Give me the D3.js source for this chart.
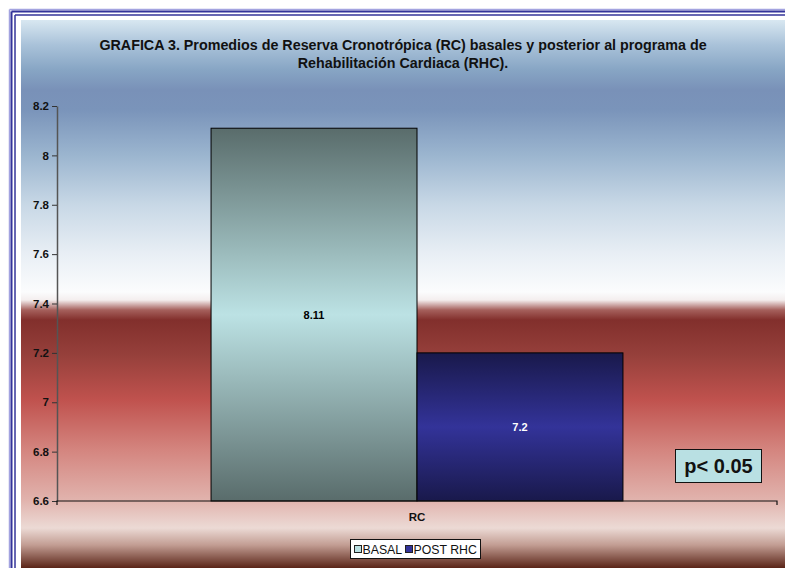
<!DOCTYPE html>
<html>
<head>
<meta charset="utf-8">
<script src="https://cdn.jsdelivr.net/npm/d3@7"></script>
<style>
  html, body { margin: 0; padding: 0; background: #ffffff; }
  svg { display: block; font-family: Arial, "Liberation Sans", sans-serif; }
</style>
</head>
<body>
<svg id="chart" width="785" height="568"></svg>
<script>
// Chart data
const categories = ["RC"];
const seriesNames = ["BASAL", "POST RHC"];
const basalValues = [8.11];
const postValues = [7.2];
const yTicks = [6.6, 6.8, 7, 7.2, 7.4, 7.6, 7.8, 8, 8.2];
const yTickLabels = ["6.6", "6.8", "7", "7.2", "7.4", "7.6", "7.8", "8", "8.2"];
const titleLines = [
  "GRAFICA 3. Promedios de Reserva Cronotrópica (RC) basales y posterior al programa de",
  "Rehabilitación Cardiaca (RHC)."
];
const pValueText = "p< 0.05";

const svg = d3.select("#chart");
const defs = svg.append("defs");

// Chart area background: blue sky fading into a dark red band, then pink
const bg = defs.append("linearGradient").attr("id", "bgGrad")
  .attr("x1", 0).attr("y1", 0).attr("x2", 0).attr("y2", 1);
const bgTop = 20, bgBottom = 568;
const bgStops = [
  [20, "#d8e7f1"], [45, "#a9c2d9"], [70, "#87a5c4"], [90, "#7991b8"],
  [110, "#7a94ba"], [155, "#9bb5cf"], [205, "#c8d8e6"], [255, "#e9eff5"],
  [292, "#fbfcfd"], [300, "#f4eeee"], [310, "#a5605c"], [320, "#822f2c"],
  [355, "#96403b"], [400, "#c0524e"], [450, "#d4857f"], [500, "#e1b3ad"],
  [528, "#ecdad5"], [545, "#c29d93"], [568, "#5a2417"]
];
bgStops.forEach(([y, c]) => {
  bg.append("stop").attr("offset", (y - bgTop) / (bgBottom - bgTop)).attr("stop-color", c);
});

// Bar fills: dark edges with a light band through the middle
function barGradient(id, edge, mid) {
  const g = defs.append("linearGradient").attr("id", id)
    .attr("x1", 0).attr("y1", 0).attr("x2", 0).attr("y2", 1);
  g.append("stop").attr("offset", 0).attr("stop-color", edge);
  g.append("stop").attr("offset", 0.5).attr("stop-color", mid);
  g.append("stop").attr("offset", 1).attr("stop-color", edge);
}
barGradient("basalGrad", "#596c6b", "#bce2e4");
barGradient("postGrad", "#19194b", "#333399");

const seriesFill = ["url(#basalGrad)", "url(#postGrad)"];
const seriesSwatch = ["#b9e0e2", "#333399"];
const labelColor = ["#000000", "#ffffff"];

// Outer triple-line frame
const frame = svg.append("g");
frame.append("rect").attr("x", 21).attr("y", 20).attr("width", 764).attr("height", 548)
  .attr("fill", "url(#bgGrad)");
[[9.5, "#a3a3e0", 1.5], [11.5, "#333399", 2], [15, "#333399", 1.5]].forEach(([o, c, w]) => {
  frame.append("line").attr("x1", o).attr("y1", o).attr("x2", o).attr("y2", 568)
    .attr("stroke", c).attr("stroke-width", w);
  frame.append("line").attr("x1", o).attr("y1", o).attr("x2", 785).attr("y2", o)
    .attr("stroke", c).attr("stroke-width", w);
});

// Title
svg.append("g").selectAll("text").data(titleLines).join("text")
  .attr("x", 403).attr("y", (d, i) => 50 + i * 18)
  .attr("text-anchor", "middle")
  .attr("font-size", 14.3).attr("font-weight", "bold").attr("fill", "#111")
  .text(d => d);

// Scales
const plotLeft = 57, plotRight = 777, plotTop = 106, plotBottom = 501;
const y = d3.scaleLinear().domain([6.6, 8.2]).range([plotBottom, plotTop]);
const x0 = d3.scaleBand().domain(categories).range([plotLeft, plotRight])
  .paddingInner(0).paddingOuter(0.374);
const x1 = d3.scaleBand().domain(seriesNames).range([0, x0.bandwidth()]).padding(0);

// Bars
const data = categories.map((c, i) => ({
  cat: c,
  vals: [{ s: seriesNames[0], v: basalValues[i], k: 0 }, { s: seriesNames[1], v: postValues[i], k: 1 }]
}));
const groups = svg.append("g").selectAll("g").data(data).join("g")
  .attr("transform", d => `translate(${x0(d.cat)},0)`);
groups.selectAll("rect").data(d => d.vals).join("rect")
  .attr("x", d => x1(d.s)).attr("y", d => y(d.v))
  .attr("width", x1.bandwidth()).attr("height", d => y(6.6) - y(d.v))
  .attr("fill", d => seriesFill[d.k])
  .attr("stroke", "#000").attr("stroke-width", 1);
groups.selectAll("text").data(d => d.vals).join("text")
  .attr("x", d => x1(d.s) + x1.bandwidth() / 2)
  .attr("y", d => (y(d.v) + y(6.6)) / 2 + 4)
  .attr("text-anchor", "middle")
  .attr("font-size", 11).attr("font-weight", "bold")
  .attr("fill", d => labelColor[d.k])
  .text(d => d.v);

// Y axis
const yAxis = d3.axisLeft(y).tickValues(yTicks).tickFormat((d, i) => yTickLabels[i])
  .tickSize(5).tickSizeOuter(0).tickPadding(3);
const yg = svg.append("g").attr("transform", `translate(${plotLeft},0)`).call(yAxis);
yg.select(".domain").attr("stroke", "#555").attr("stroke-width", 1.5);
yg.selectAll(".tick line").attr("stroke", "#333");
yg.selectAll(".tick text").attr("font-size", 11.5).attr("font-weight", "bold")
  .attr("fill", "#111").attr("font-family", "Arial, 'Liberation Sans', sans-serif");

// X axis
const xAxis = d3.axisBottom(x0).tickSize(0).tickPadding(12);
const xg = svg.append("g").attr("transform", `translate(0,${plotBottom})`).call(xAxis);
xg.select(".domain").attr("stroke", "#111").attr("stroke-width", 1.2)
  .attr("d", `M${plotLeft},4V0H${plotRight}V4`);
xg.selectAll(".tick text").attr("font-size", 11.5).attr("font-weight", "bold")
  .attr("fill", "#111").attr("font-family", "Arial, 'Liberation Sans', sans-serif");

// p-value box
const pg = svg.append("g");
pg.append("rect").attr("x", 675.5).attr("y", 449.5).attr("width", 86).attr("height", 33)
  .attr("fill", "#b9e0e3").attr("stroke", "#111").attr("stroke-width", 1);
pg.append("text").attr("x", 718.5).attr("y", 473).attr("text-anchor", "middle")
  .attr("font-size", 20).attr("font-weight", "bold").attr("fill", "#111")
  .text(pValueText);

// Legend
const lg = svg.append("g");
lg.append("rect").attr("x", 350.5).attr("y", 539.5).attr("width", 130).attr("height", 19)
  .attr("fill", "#fff").attr("stroke", "#111").attr("stroke-width", 1);
const legendX = [354, 405];
const items = lg.selectAll("g").data(seriesNames).join("g")
  .attr("transform", (d, i) => `translate(${legendX[i]},545)`);
items.append("rect").attr("x", 0.5).attr("y", 0.5).attr("width", 7).attr("height", 7)
  .attr("fill", (d, i) => seriesSwatch[i]).attr("stroke", "#222").attr("stroke-width", 1);
items.append("text").attr("x", 8.5).attr("y", 8.8)
  .attr("font-size", 12.3).attr("fill", "#111")
  .text(d => d);
</script>
</body>
</html>
